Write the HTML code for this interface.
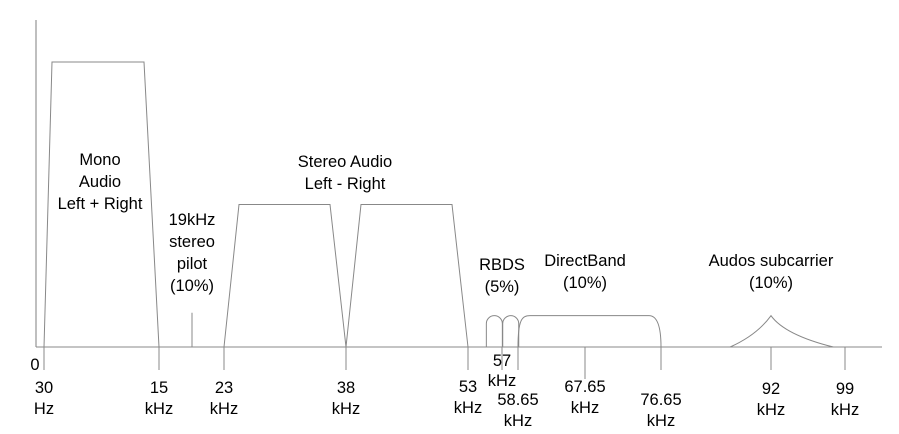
<!DOCTYPE html>
<html><head><meta charset="utf-8"><style>
html,body{margin:0;padding:0;background:#fff;}
svg{display:block;font-family:"Liberation Sans",Arial,sans-serif;}
text{font-size:16.5px;fill:#000;text-anchor:middle;}
</style></head><body>
<svg id="c" width="899" height="434"></svg>
<script>
// data (kHz)
const tickFreqs=[0.03,15,19,23,38,53,57,58.65,67.65,76.65,92,99];
const tickLabels=[["30","Hz"],["15","kHz"],null,["23","kHz"],["38","kHz"],["53","kHz"],["57","kHz"],["58.65","kHz"],["67.65","kHz"],["76.65","kHz"],["92","kHz"],["99","kHz"]];
const monoBand=[0.03,15], monoLevel=1.0;
const stereoBands=[[23,38],[38,53]], stereoLevel=0.5;
const pilotFreq=19, pilotLevel=0.12;
const rbdsCenters=[56.1,57.9], rbdsLevel=0.11;
const directBand=[58.65,76.65], directLevel=0.11;
const audosBand=[86.3,97.9], audosPeak=92, audosLevel=0.11;
// axis functions (diagram is not to scale; piecewise linear through anchors)
const anchF=[0.03,15,19,23,38,53,57,58.65,67.65,76.65,92,99,104];
const anchX=[44,159,192,224,346,468,502,518,585,661,771,845,882];
function X(f){for(let i=0;i<anchF.length-1;i++){if(f<=anchF[i+1]||i==anchF.length-2){const t=(f-anchF[i])/(anchF[i+1]-anchF[i]);return anchX[i]+t*(anchX[i+1]-anchX[i]);}}}
const Y0=347,H=285;function Y(v){return Y0-v*H;}
const svg=document.getElementById('c');const NS='http://www.w3.org/2000/svg';
function mk(t,a,p){const e=document.createElementNS(NS,t);for(const k in a)e.setAttribute(k,a[k]);(p||svg).appendChild(e);return e;}
const st={stroke:'#888','stroke-width':1,fill:'none'};
let e;
e=mk('line',Object.assign({x1:36,y1:20,x2:36,y2:Y0},st,{stroke:'#aaa','stroke-width':1.5}));


e=mk('line',Object.assign({x1:36,y1:Y0,x2:882,y2:Y0},st));


e=mk('text',{x:35,y:370});e.textContent='0';


// mono
{const a=X(monoBand[0]),b=X(monoBand[1]);
e=mk('path',Object.assign({d:`M${a},${Y0}L${a+8},${Y(monoLevel)}L${b-15},${Y(monoLevel)}L${b},${Y0}`},st));

}
stereoBands.forEach((s,i)=>{const a=X(s[0]),b=X(s[1]);
e=mk('path',Object.assign({d:`M${a},${Y0}L${a+15},${Y(stereoLevel)}L${b-16},${Y(stereoLevel)}L${b},${Y0}`},st));

});
e=mk('line',Object.assign({x1:X(pilotFreq),y1:Y0,x2:X(pilotFreq),y2:Y(pilotLevel)},st));


rbdsCenters.forEach((c,i)=>{const x=X(c),r=8,top=Y(rbdsLevel);
e=mk('path',Object.assign({d:`M${x-r},${Y0}L${x-r},${top+r}A${r},${r} 0 0 1 ${x+r},${top+r}L${x+r},${Y0}`},st));

});
{const a=X(directBand[0]),b=X(directBand[1]),t=Y(directLevel);
e=mk('path',Object.assign({d:`M${a},${Y0}C${a},${t+4} ${a+4},${t} ${a+12},${t}L${b-12},${t}C${b-4},${t} ${b},${t+10} ${b},${Y0}`},st));

}
{const a=X(audosBand[0]),b=X(audosBand[1]),p=X(audosPeak),t=Y(audosLevel);
e=mk('path',Object.assign({d:`M${a},${Y0}Q${p-14},${Y0-12} ${p},${t}Q${p+14},${Y0-12} ${b},${Y0}`},st));

}
// ticks
const lblY={0.03:[393,414],15:[393,414],23:[393,414],38:[393,414],53:[392,413],57:[366,386],58.65:[405,426],67.65:[392,413],76.65:[405,426],92:[394,415],99:[394,415]};
tickFreqs.forEach((f,i)=>{const x=X(f);
if(f!==pilotFreq){e=mk('line',Object.assign({x1:x,y1:Y0,x2:x,y2:f===67.65?379:370},st));

}
const L=tickLabels[i];if(!L)return;const yy=lblY[f];
e=mk('text',{x:x,y:yy[0]});e.textContent=L[0];


e=mk('text',{x:x,y:yy[1]});e.textContent=L[1];

});
// annotations
const notes=[['mono-label',100,[165,187,209],['Mono','Audio','Left + Right']],
['stereo-label',345,[167,189],['Stereo Audio','Left - Right']],
['pilot-label',192,[225,247,269,291],['19kHz','stereo','pilot','(10%)']],
['rbds-label',502,[270,292],['RBDS','(5%)']],
['directband-label',585,[266,288],['DirectBand','(10%)']],
['audos-label',771,[266,288],['Audos subcarrier','(10%)']]];
notes.forEach(n=>{n[3].forEach((t,j)=>{e=mk('text',{x:n[1],y:n[2][j]});e.textContent=t;

});});
</script>
</body></html>
